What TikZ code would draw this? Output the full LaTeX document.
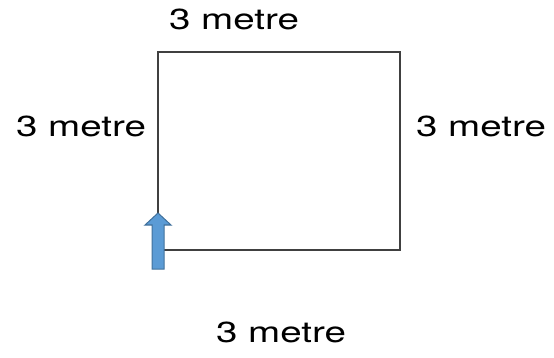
\documentclass[tikz,border=0pt]{standalone}
\usepackage{fontspec}
\setmainfont{TeX Gyre Heros}
\definecolor{arrowblue}{HTML}{5B9BD5}
\definecolor{arrowedge}{HTML}{41719C}
\newcommand{\wide}[1]{\scalebox{1.33}[1]{#1}}
\begin{document}
\begin{tikzpicture}[x=1pt,y=-1pt,
    lbl/.style={anchor=base,inner sep=0pt,font=\fontsize{29}{32}\selectfont}]
    \useasboundingbox (0,0) rectangle (554,358);
    \def\corners{(158,52),(400,52),(400,250),(158,250)}
    %             1        2        3         4
    \foreach \p [count=\i from 1] in \corners {\node[inner sep=0pt] (k\i) at \p {};}
    \draw[line width=1.2pt,black!75] (k1.center)--(k2.center)--(k3.center)--(k4.center)--cycle;
    % side lengths
    \node[lbl] (top) at (234,30) {\wide{3 metre}};
    \node[lbl] (left) at (81,137) {\wide{3 metre}};
    \node[lbl] (right) at (481,137) {\wide{3 metre}};
    \node[lbl] (bottom) at (281,342) {\wide{3 metre}};
    % start arrow
    \draw[fill=arrowblue,draw=arrowedge,line width=1pt]
      (152,269)--(152,225)--(145,225)--(158,213)--(171,225)--(164,225)--(164,269)--cycle;
\end{tikzpicture}
\end{document}
